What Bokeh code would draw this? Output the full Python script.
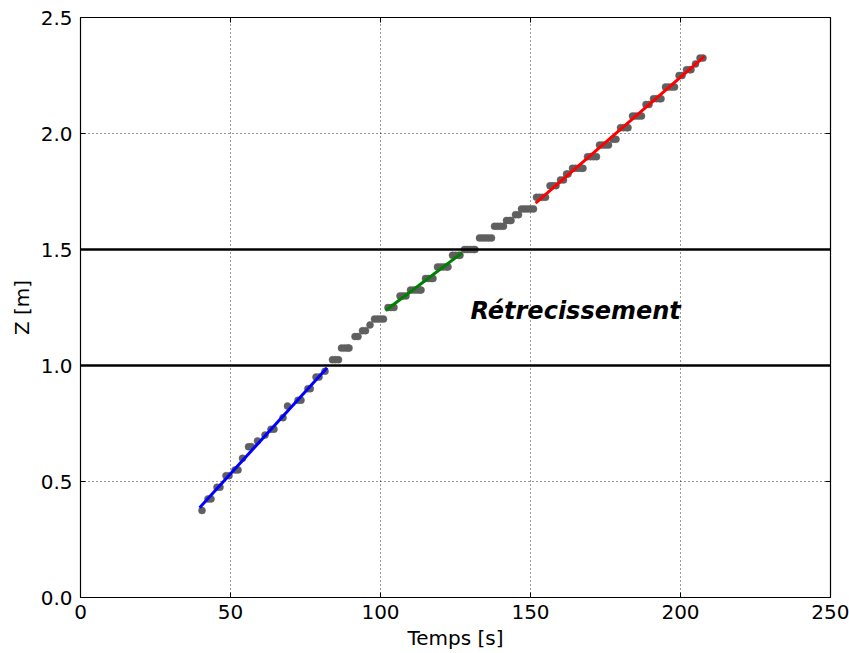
import math
from bokeh.plotting import figure
from bokeh.models import Span, FixedTicker, Range1d, PrintfTickFormatter
from bokeh.core.properties import value
from bokeh.embed import file_html
from bokeh.resources import INLINE

# Measured points (time [s], height [m])
temps = [40.5,
         42.5, 43.5,
         45.5, 46.5,
         48.5, 49.5,
         51.5, 52.5,
         54,
         56, 57,
         59,
         61.5,
         63.5, 64.5,
         67.5,
         69,
         72.5, 73.5,
         75.8, 76.6,
         78.5, 79.5,
         81.5,
         84, 85, 86,
         87, 88, 89, 89.5,
         91.5, 92.5,
         94, 95,
         96.5,
         98, 99, 100, 101,
         102.5, 103.5, 104.5,
         106.5, 107.5, 108.5,
         110, 111, 112, 113, 113.5,
         115, 116, 117, 117.5,
         119, 120, 121, 122, 122.5,
         124, 125, 126, 126.5,
         128, 129, 130, 131, 131.5,
         133, 134, 135, 136, 137,
         138, 139, 140, 141,
         142, 143, 143.5,
         145, 146,
         147, 148, 149, 150, 151,
         152, 153, 154, 155,
         156.5, 157.5, 158.5,
         160, 161,
         162, 162.5,
         164, 165, 166, 167, 167.5,
         169, 170, 171, 172,
         173, 174, 175, 176,
         177.5, 178.5,
         180, 181, 182, 182.5,
         184, 185, 186, 187,
         188.5, 189.5,
         191, 192, 193, 193.5,
         195, 196, 197, 198,
         199.5, 200.5,
         202, 203, 203.5,
         205,
         206.5, 207.5]
z = [0.375,
     0.425, 0.425,
     0.475, 0.475,
     0.525, 0.525,
     0.55, 0.55,
     0.60,
     0.65, 0.65,
     0.675,
     0.70,
     0.725, 0.725,
     0.775,
     0.825,
     0.85, 0.85,
     0.90, 0.90,
     0.95, 0.95,
     0.975,
     1.025, 1.025, 1.025,
     1.075, 1.075, 1.075, 1.075,
     1.125, 1.125,
     1.15, 1.15,
     1.175,
     1.20, 1.20, 1.20, 1.20,
     1.25, 1.25, 1.25,
     1.30, 1.30, 1.30,
     1.325, 1.325, 1.325, 1.325, 1.325,
     1.375, 1.375, 1.375, 1.375,
     1.425, 1.425, 1.425, 1.425, 1.425,
     1.475, 1.475, 1.475, 1.475,
     1.50, 1.50, 1.50, 1.50, 1.50,
     1.55, 1.55, 1.55, 1.55, 1.55,
     1.60, 1.60, 1.60, 1.60,
     1.625, 1.625, 1.625,
     1.65, 1.65,
     1.675, 1.675, 1.675, 1.675, 1.675,
     1.725, 1.725, 1.725, 1.725,
     1.775, 1.775, 1.775,
     1.80, 1.80,
     1.825, 1.825,
     1.85, 1.85, 1.85, 1.85, 1.85,
     1.90, 1.90, 1.90, 1.90,
     1.95, 1.95, 1.95, 1.95,
     1.975, 1.975,
     2.025, 2.025, 2.025, 2.025,
     2.075, 2.075, 2.075, 2.075,
     2.125, 2.125,
     2.15, 2.15, 2.15, 2.15,
     2.20, 2.20, 2.20, 2.20,
     2.25, 2.25,
     2.275, 2.275, 2.275,
     2.30,
     2.325, 2.325]

# Linear fits (start/end time, start/end height)
fit_blue_t = [39.7, 82.2]
fit_blue_z = [0.387, 0.99]
fit_green_t = [101.7, 127.2]
fit_green_z = [1.237, 1.486]
fit_red_t = [151.7, 208.0]
fit_red_z = [1.70, 2.332]

limits_z = [1.0, 1.5]
label_text = "Rétrecissement"
label_t = 130.0
label_z = 1.235

x_min, x_max = 0, 250
y_min, y_max = 0.0, 2.5
x_ticks = [0, 50, 100, 150, 200, 250]
y_ticks = [0.0, 0.5, 1.0, 1.5, 2.0, 2.5]

FONT = "DejaVu Sans"
FS = "20px"

p = figure(width=849, height=653,
           x_range=Range1d(x_min, x_max), y_range=Range1d(y_min, y_max),
           output_backend="svg", toolbar_location=None,
           min_border_left=80, min_border_right=19, min_border_top=17, min_border_bottom=56,
           background_fill_color="white", border_fill_color="white")

p.outline_line_color = "black"
p.outline_line_width = 1.2

for ax in (p.xaxis[0], p.yaxis[0]):
    ax.major_tick_in = 5
    ax.major_tick_out = 0
    ax.minor_tick_in = 0
    ax.minor_tick_out = 0
    ax.axis_line_color = "black"
    ax.major_tick_line_color = "black"
    ax.major_label_text_font = FONT
    ax.major_label_text_font_size = FS
    ax.major_label_text_color = "black"
    ax.axis_label_text_font = FONT
    ax.axis_label_text_font_size = FS
    ax.axis_label_text_font_style = "normal"
    ax.axis_label_text_color = "black"

p.xaxis[0].ticker = FixedTicker(ticks=x_ticks)
p.yaxis[0].ticker = FixedTicker(ticks=y_ticks)
p.yaxis[0].formatter = PrintfTickFormatter(format="%.1f")
p.xaxis[0].axis_label = "Temps [s]"
p.yaxis[0].axis_label = "Z [m]"
p.xaxis[0].major_label_standoff = 7
p.yaxis[0].major_label_standoff = 8
p.xaxis[0].axis_label_standoff = 4
p.yaxis[0].axis_label_standoff = 4

for g in (p.xgrid[0], p.ygrid[0]):
    g.grid_line_color = "black"
    g.grid_line_dash = "1 3"
    g.grid_line_width = 1
    g.grid_line_alpha = 0.8
p.xgrid[0].ticker = FixedTicker(ticks=x_ticks)
p.ygrid[0].ticker = FixedTicker(ticks=y_ticks)

for lz in limits_z:
    p.add_layout(Span(location=lz, dimension="width", line_color="black", line_width=2.5))

p.scatter(temps, z, size=7, fill_color="#5f5f5f", line_color="#5f5f5f", line_width=0.5)

p.line(fit_blue_t, fit_blue_z, line_color="#0000ff", line_width=3)
p.line(fit_green_t, fit_green_z, line_color="#008000", line_width=3)
p.line(fit_red_t, fit_red_z, line_color="#ff0000", line_width=3)

p.text(x=[label_t], y=[label_z], text=[label_text], text_font=value(FONT),
       text_font_size="24px", text_font_style="bold italic", text_color="black",
       text_baseline="alphabetic", text_align="left")

# mirrored inward ticks on the top and right edges (half of each dash is clipped by the frame)
p.scatter(x_ticks, [y_max] * len(x_ticks), marker="dash", size=10, angle=math.pi / 2,
          line_color="black", line_width=1)
p.scatter([x_max] * len(y_ticks), y_ticks, marker="dash", size=10, angle=0,
          line_color="black", line_width=1)

with open("out.html", "w") as f:
    f.write(file_html(p, INLINE))
